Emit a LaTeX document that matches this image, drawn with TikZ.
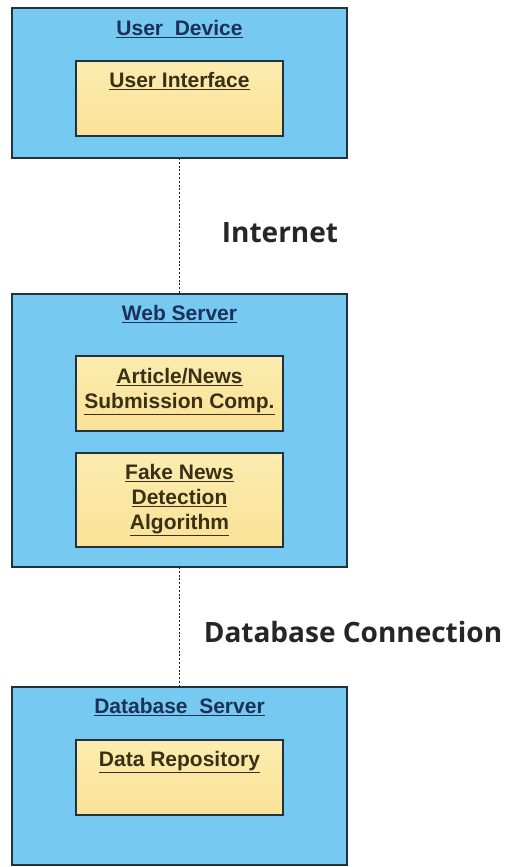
\documentclass[tikz,border=0pt]{standalone}
\usepackage{fontspec}
\setmainfont{Liberation Sans}
\newfontfamily\labelfont{Open Sans}
\definecolor{devblue}{RGB}{118,201,240}
\definecolor{compyellow}{RGB}{252,236,176}
\definecolor{compyellowlow}{RGB}{250,226,150}
\definecolor{edgedark}{RGB}{32,50,62}
\definecolor{titlenavy}{RGB}{28,48,88}
\definecolor{comptext}{RGB}{58,48,22}
\definecolor{wiregray}{RGB}{30,30,30}
\newcommand{\ulx}[1]{\underline{#1}}
\begin{document}
\begin{tikzpicture}[x=1pt,y=-1pt,
  hostbox/.style={draw=edgedark,line width=2pt,fill=devblue,anchor=north west,
    minimum width=335pt,inner sep=0pt,outer sep=0pt},
  compbox/.style={draw=edgedark,line width=2pt,top color=compyellow,bottom color=compyellowlow,
    anchor=north west,minimum width=207pt,inner sep=0pt,outer sep=0pt},
  hosttitle/.style={anchor=base,text=titlenavy,font=\bfseries\fontsize{21}{25}\selectfont,inner sep=0pt},
  comptitle/.style={anchor=north,text=comptext,align=center,font=\bfseries\fontsize{21}{25}\selectfont,inner sep=0pt},
  wire/.style={draw=wiregray,line width=1.6pt,dash pattern=on 2pt off 1.8pt},
  netlabel/.style={text=black!85,font=\labelfont\bfseries\fontsize{28}{31}\selectfont,inner sep=0pt}]
\useasboundingbox[fill=white] (0,0) rectangle (505,867);

% user device
\node[hostbox,minimum height=150pt] (ud) at (12,8) {};
\node[hosttitle] (udt) at (179.5,35.5) {\ulx{User\ \ Device}};
\node[compbox,minimum height=75pt] (ui) at (76,61) {};
\node[comptitle] (uit) at (179.5,72) {\ulx{User Interface}};

% web server
\node[hostbox,minimum height=273pt] (ws) at (12,294) {};
\node[hosttitle] (wst) at (179.5,320.5) {\ulx{Web Server}};
\node[compbox,minimum height=75pt] (sub) at (76,356) {};
\node[comptitle] (subt) at (179.5,368) {\ulx{Article/News}\\\ulx{Submission Comp.}};
\node[compbox,minimum height=94pt] (fnd) at (76,453) {};
\node[comptitle] (fndt) at (179.5,464) {\ulx{Fake News}\\\ulx{Detection}\\\ulx{Algorithm}};

% database server
\node[hostbox,minimum height=178pt] (db) at (12,687) {};
\node[hosttitle] (dbt) at (179.5,713.5) {\ulx{Database\ \ Server}};
\node[compbox,minimum height=75pt] (repo) at (76,740) {};
\node[comptitle] (repot) at (179.5,751) {\ulx{Data Repository}};

% links between hosts
\draw[wire] (ud.south) -- (ws.north);
\draw[wire] (ws.south) -- (db.north);
\node[netlabel] (inet) at (280,233) {Internet};
\node[netlabel] (dbc) at (353,632) {Database Connection};
\end{tikzpicture}
\end{document}
